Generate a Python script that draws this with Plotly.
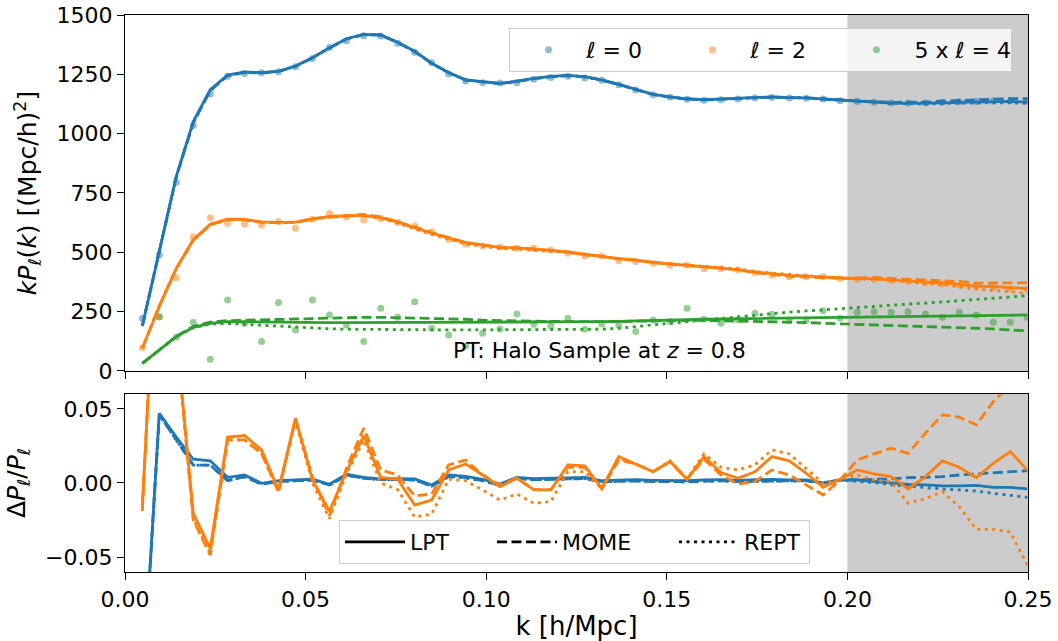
import plotly.graph_objects as go

# ---------------- data ----------------
k = [0.0048, 0.0095, 0.0142, 0.0189, 0.0236, 0.0284, 0.0331, 0.0378, 0.0425, 0.0472,
     0.0519, 0.0566, 0.0613, 0.0661, 0.0708, 0.0755, 0.0802, 0.0849, 0.0896, 0.0943,
     0.0990, 0.1038, 0.1085, 0.1132, 0.1179, 0.1226, 0.1273, 0.1320, 0.1367, 0.1414,
     0.1462, 0.1509, 0.1556, 0.1603, 0.1650, 0.1697, 0.1744, 0.1791, 0.1839, 0.1886,
     0.1933, 0.1980, 0.2027, 0.2074, 0.2121, 0.2168, 0.2216, 0.2263, 0.2310, 0.2357,
     0.2404, 0.2451, 0.2498]

# measured multipoles (k P_l)
data_l0 = [222, 489, 795, 1034, 1167, 1242, 1253, 1257, 1261, 1282,
           1317, 1363, 1392, 1413, 1412, 1381, 1343, 1299, 1251, 1222,
           1215, 1213, 1216, 1229, 1237, 1242, 1235, 1225, 1206, 1184,
           1164, 1153, 1145, 1141, 1143, 1146, 1150, 1152, 1150, 1149,
           1146, 1139, 1135, 1132, 1129, 1129, 1129, 1132, 1134, 1135,
           1138, 1139, 1138]
data_l2 = [98, 227, 393, 565, 646, 621, 619, 614, 629, 601,
           639, 664, 649, 636, 643, 626, 612, 587, 555, 534,
           527, 522, 517, 517, 510, 496, 485, 485, 465, 461,
           454, 445, 445, 431, 431, 426, 414, 403, 397, 397,
           397, 389, 386, 386, 381, 379, 372, 366, 361, 356,
           351, 346, 344]
data_l4x5 = [None, 228, 142, 205, 49, 299, 201, 124, 289, 173,
             299, 236, 194, 124, 264, 226, 292, 180, 152, 105,
             159, 177, 240, 197, 190, 222, 176, 198, 194, 166,
             215, 208, 264, 218, 201, 215, 243, 239, 215, 215,
             254, 222, 247, 250, 247, 250, 240, 226, 247, 236,
             205, 205, 226]

# model predictions (top panel)
lpt_l0 = [190, 512, 820, 1051, 1185, 1247, 1260, 1257, 1263, 1285,
          1320, 1362, 1400, 1418, 1416, 1385, 1347, 1297, 1258, 1227,
          1218, 1212, 1221, 1233, 1241, 1246, 1240, 1227, 1208, 1187,
          1166, 1155, 1147, 1143, 1146, 1148, 1152, 1155, 1152, 1151,
          1146, 1141, 1137, 1133, 1129, 1128, 1128, 1130, 1132, 1133,
          1135, 1136, 1133]
mome_l0 = [190, 511, 818, 1046, 1181, 1244, 1258, 1256, 1262, 1284,
           1320, 1361, 1399, 1418, 1415, 1384, 1346, 1296, 1257, 1226,
           1217, 1211, 1220, 1232, 1240, 1245, 1239, 1226, 1207, 1186,
           1165, 1154, 1146, 1142, 1145, 1147, 1151, 1154, 1152, 1151,
           1146, 1141, 1138, 1135, 1132, 1133, 1133, 1137, 1140, 1142,
           1146, 1148, 1147]
rept_l0 = [190, 511, 818, 1046, 1181, 1244, 1258, 1256, 1262, 1284,
           1320, 1361, 1399, 1418, 1415, 1384, 1346, 1296, 1256, 1226,
           1217, 1211, 1220, 1232, 1240, 1245, 1239, 1226, 1207, 1186,
           1165, 1154, 1146, 1142, 1145, 1147, 1151, 1154, 1152, 1151,
           1146, 1141, 1136, 1132, 1128, 1127, 1125, 1127, 1129, 1129,
           1130, 1130, 1127]
lpt_l2 = [97, 272, 432, 553, 618, 640, 639, 628, 626, 627,
          640, 651, 654, 656, 645, 628, 603, 580, 560, 541,
          530, 521, 519, 515, 508, 502, 491, 483, 473, 467,
          457, 451, 446, 439, 434, 427, 417, 410, 403, 400,
          396, 390, 389, 388, 383, 377, 374, 371, 365, 357,
          356, 353, 347]
mome_l2 = [96, 275, 432, 551, 615, 639, 637, 626, 625, 627,
           642, 649, 655, 660, 649, 629, 607, 583, 562, 542,
           530, 521, 519, 515, 508, 501, 490, 483, 472, 467,
           457, 451, 446, 438, 433, 426, 414, 407, 399, 396,
           394, 390, 392, 394, 390, 387, 384, 383, 377, 370,
           370, 369, 372]
rept_l2 = [96, 275, 432, 551, 616, 639, 637, 626, 625, 626,
           639, 648, 653, 654, 643, 623, 598, 575, 556, 535,
           525, 516, 513, 510, 504, 500, 489, 483, 473, 467,
           457, 452, 446, 439, 436, 430, 419, 412, 405, 401,
           397, 390, 388, 387, 381, 374, 368, 364, 355, 345,
           340, 335, 325]
lpt_l4x5 = [32, 88, 145, 184, 201, 208, 207, 205, 204, 204,
            204, 204, 204, 205, 205, 205, 205, 205, 205, 205,
            205, 205, 205, 206, 206, 207, 207, 208, 209, 210,
            212, 214, 216, 218, 219, 220, 221, 222, 224, 225,
            226, 227, 228, 229, 230, 231, 231, 232, 233, 234,
            235, 235, 236]
mome_l4x5 = [32, 88, 146, 188, 206, 212, 214, 215, 216, 217,
             219, 221, 224, 226, 226, 225, 224, 222, 220, 218,
             214, 212, 211, 210, 209, 208, 207, 207, 208, 210,
             212, 213, 213, 213, 212, 211, 210, 208, 206, 204,
             201, 199, 197, 195, 193, 191, 188, 186, 183, 180,
             177, 173, 169]
rept_l4x5 = [32, 88, 145, 182, 198, 200, 196, 191, 187, 184,
             181, 178, 176, 175, 174, 173, 173, 173, 173, 173,
             173, 173, 173, 173, 174, 174, 175, 176, 180, 186,
             193, 201, 208, 215, 222, 229, 236, 242, 248, 253,
             258, 264, 268, 273, 277, 282, 286, 291, 296, 301,
             306, 311, 317]

# relative residuals (bottom panel)
res_lpt_l0 = [-0.143, 0.047, 0.031, 0.016, 0.015, 0.0038, 0.0054, -0.0002, 0.0016, 0.002,
              0.0025, -0.0009, 0.0059, 0.0038, 0.0028, 0.003, 0.0028, -0.0014, 0.0054, 0.0045,
              0.0025, -0.0007, 0.0038, 0.003, 0.0032, 0.0035, 0.0038, 0.0015, 0.002, 0.0022,
              0.0018, 0.0015, 0.0015, 0.002, 0.0022, 0.0018, 0.002, 0.0025, 0.002, 0.002,
              0.0, 0.002, 0.002, 0.001, 0.0, -0.001, -0.0013, -0.002, -0.002, -0.0016,
              -0.003, -0.003, -0.004]
res_mome_l0 = [-0.143, 0.046, 0.029, 0.012, 0.012, 0.0016, 0.0042, -0.0008, 0.001, 0.0014,
               0.002, -0.0014, 0.0052, 0.0032, 0.0022, 0.0024, 0.002, -0.0022, 0.0044, 0.0036,
               0.0016, -0.0016, 0.003, 0.0022, 0.0024, 0.0027, 0.003, 0.0008, 0.0012, 0.0014,
               0.001, 0.0008, 0.0008, 0.0012, 0.0014, 0.001, 0.0012, 0.0017, 0.0014, 0.0014,
               0.0, 0.002, 0.0025, 0.0025, 0.0027, 0.0036, 0.0038, 0.0043, 0.0054, 0.006,
               0.007, 0.0077, 0.0083]
res_rept_l0 = [-0.143, 0.046, 0.029, 0.012, 0.012, 0.0016, 0.0042, -0.0008, 0.001, 0.0014,
               0.002, -0.0014, 0.0052, 0.0032, 0.0022, 0.0024, 0.002, -0.0022, 0.0042, 0.0034,
               0.0014, -0.0017, 0.003, 0.0022, 0.0024, 0.0027, 0.003, 0.0008, 0.0012, 0.0014,
               0.001, 0.0008, 0.0008, 0.0012, 0.0014, 0.001, 0.0012, 0.0017, 0.0014, 0.0014,
               0.0, 0.002, 0.0012, 0.0003, -0.0012, -0.0022, -0.0032, -0.0041, -0.0047, -0.0054,
               -0.007, -0.0081, -0.0097]
res_lpt_l2 = [-0.015, 0.20, 0.10, -0.0205, -0.044, 0.031, 0.032, 0.0223, -0.0047, 0.0437,
              0.002, -0.019, 0.0076, 0.032, 0.0038, 0.0025, -0.0149, -0.0115, 0.0088, 0.0128,
              0.0054, -0.0025, 0.0032, -0.0047, -0.0047, 0.0122, 0.0115, -0.0036, 0.0178, 0.0128,
              0.0076, 0.0144, 0.0025, 0.0178, 0.007, 0.0032, 0.0076, 0.0178, 0.0149, 0.0065,
              -0.0029, 0.0025, 0.0088, 0.0061, 0.0043, -0.004, 0.0043, 0.0149, 0.0106, 0.0036,
              0.0133, 0.0212, 0.0088]
res_mome_l2 = [-0.019, 0.21, 0.10, -0.025, -0.0487, 0.029, 0.029, 0.02, -0.006, 0.043,
               0.004, -0.022, 0.010, 0.037, 0.0088, 0.0054, -0.0088, -0.0074, 0.0122, 0.0155,
               0.0054, -0.0014, 0.0032, -0.0045, -0.0045, 0.0106, 0.0106, -0.004, 0.0155, 0.0128,
               0.0076, 0.0144, 0.0025, 0.016, 0.0054, -0.0007, 0.0009, 0.0088, 0.0054, -0.0014,
               -0.0081, 0.002, 0.0155, 0.0196, 0.0234, 0.020, 0.0336, 0.0459, 0.0444, 0.0392,
               0.055, 0.066, 0.08]
res_rept_l2 = [-0.017, 0.21, 0.10, -0.024, -0.047, 0.029, 0.029, 0.02, -0.006, 0.042,
               0.0, -0.024, 0.006, 0.029, 0.0, -0.0045, -0.023, -0.021, 0.0025, 0.0015,
               -0.0047, -0.0115, -0.0074, -0.0137, -0.0126, 0.0076, 0.0076, -0.004, 0.0166, 0.0128,
               0.0076, 0.015, 0.003, 0.0196, 0.0106, 0.0088, 0.0122, 0.0223, 0.0196, 0.0099,
               -0.0002, 0.0025, 0.0054, 0.002, 0.0009, -0.0137, -0.0104, -0.0059, -0.016, -0.0313,
               -0.0313, -0.0329, -0.0554]

legend_markers = ["<i>ℓ</i> = 0", "<i>ℓ</i> = 2", "5 x <i>ℓ</i> = 4"]
legend_models = ["LPT", "MOME", "REPT"]
x_ticks = [0.0, 0.05, 0.10, 0.15, 0.20, 0.25]
y_ticks_top = [0, 250, 500, 750, 1000, 1250, 1500]
y_ticks_bot = [-0.05, 0.0, 0.05]
y_ticktext_bot = ["−0.05", "0.00", "0.05"]
scale_cut = [0.20, 0.25]

# ---------------- style ----------------
C0, C1, C2 = "#1f77b4", "#ff7f0e", "#2ca02c"
FONT = "DejaVu Sans"
LW = 2.8
DASH = "10px,4.5px"
DOT = "3px,4.5px"
styles = ["solid", DASH, DOT]

fig = go.Figure()

# data points
for vals, col, name, lw in zip([data_l0, data_l2, data_l4x5], [C0, C1, C2],
                               legend_markers, [83, 83, 92]):
    fig.add_trace(go.Scatter(
        x=k, y=vals, mode="markers", name=name, legend="legend",
        marker=dict(color=col, size=7, opacity=0.5, line=dict(width=0)),
        xaxis="x", yaxis="y", legendwidth=lw))

# model lines (top)
for group, col in [((lpt_l0, mome_l0, rept_l0), C0),
                   ((lpt_l2, mome_l2, rept_l2), C1),
                   ((lpt_l4x5, mome_l4x5, rept_l4x5), C2)]:
    for vals, dash in zip(group, styles):
        fig.add_trace(go.Scatter(
            x=k, y=vals, mode="lines", showlegend=False,
            line=dict(color=col, width=LW, dash=dash),
            xaxis="x", yaxis="y"))

# residual lines (bottom)
for group, col in [((res_lpt_l0, res_mome_l0, res_rept_l0), C0),
                   ((res_lpt_l2, res_mome_l2, res_rept_l2), C1)]:
    for vals, dash in zip(group, styles):
        fig.add_trace(go.Scatter(
            x=k, y=vals, mode="lines", showlegend=False,
            line=dict(color=col, width=LW, dash=dash),
            xaxis="x2", yaxis="y2"))

# legend entries for model line styles
for name, dash, lw in zip(legend_models, styles, [77, 107, 60]):
    fig.add_trace(go.Scatter(
        x=[None], y=[None], mode="lines", name=name, legend="legend2",
        line=dict(color="black", width=LW, dash=dash),
        xaxis="x2", yaxis="y2", legendwidth=lw))

# shaded region
for xref, yref in [("x", "y domain"), ("x2", "y2 domain")]:
    fig.add_shape(type="rect", xref=xref, yref=yref,
                  x0=scale_cut[0], x1=scale_cut[1], y0=0, y1=1,
                  fillcolor="#cccccc", line=dict(width=0), layer="below")

fig.add_annotation(x=0.0903, y=88, xref="x", yref="y",
                   text="PT: Halo Sample at <i>z</i> = 0.8", showarrow=False,
                   xanchor="left", yanchor="middle",
                   font=dict(family=FONT, size=22, color="black"))

axis_common = dict(showline=True, linecolor="black", linewidth=1.3, mirror=True,
                   ticks="outside", ticklen=7, tickwidth=1.3, tickcolor="black",
                   showgrid=False, zeroline=False, automargin=False,
                   tickfont=dict(family=FONT, size=22, color="black"))

fig.update_layout(
    width=1058, height=641,
    margin=dict(l=125, r=30, t=15, b=69),
    paper_bgcolor="white", plot_bgcolor="white",
    font=dict(family=FONT, size=22, color="black"),
    xaxis=dict(domain=[0, 1], anchor="y", range=[0, 0.25], tickvals=x_ticks,
               showticklabels=False, matches="x2", **axis_common),
    yaxis=dict(domain=[0.3609, 1], anchor="x", range=[0, 1500], tickvals=y_ticks_top,
               title=dict(text="<i>kP</i><sub><i>ℓ</i></sub>(<i>k</i>) [(Mpc/h)<sup>2</sup>]",
                          font=dict(family=FONT, size=25, color="black"), standoff=12),
               **axis_common),
    xaxis2=dict(domain=[0, 1], anchor="y2", range=[0, 0.25], tickvals=x_ticks,
                tickformat=".2f",
                title=dict(text="k [h/Mpc]", font=dict(family=FONT, size=26, color="black"),
                           standoff=6),
                **axis_common),
    yaxis2=dict(domain=[0, 0.3196], anchor="x2", range=[-0.06, 0.06], tickvals=y_ticks_bot,
                ticktext=y_ticktext_bot,
                title=dict(text="Δ<i>P</i><sub><i>ℓ</i></sub>/<i>P</i><sub><i>ℓ</i></sub>",
                           font=dict(family=FONT, size=25, color="black"), standoff=12),
                **axis_common),
    legend=dict(x=0.4258, y=0.9767, xanchor="left", yanchor="top", orientation="h",
                bgcolor="rgba(255,255,255,0.8)", bordercolor="#cccccc", borderwidth=1,
                font=dict(family=FONT, size=22, color="black"), itemwidth=66),
    legend2=dict(x=0.237, y=0.0934, xanchor="left", yanchor="top", orientation="h",
                 bgcolor="rgba(255,255,255,0.8)", bordercolor="#cccccc", borderwidth=1,
                 font=dict(family=FONT, size=22, color="black"), itemwidth=60),
    showlegend=True,
)

fig.write_html("out.html")
